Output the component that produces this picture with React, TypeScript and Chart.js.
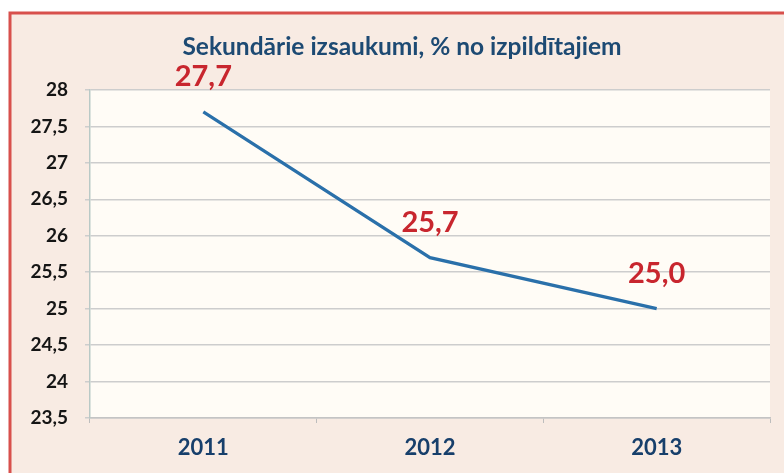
import React, { useEffect, useRef } from "react";
import { Chart, registerables } from "chart.js";

Chart.register(...registerables);

const TITLE = "Sekundārie izsaukumi, % no izpildītajiem";
const YEARS = ["2011", "2012", "2013"];
const VALUES = [27.7, 25.7, 25.0];
const VALUE_LABELS = ["27,7", "25,7", "25,0"];
const Y_MIN = 23.5;
const Y_MAX = 28;
const Y_STEP = 0.5;

const FONT = "Lato, 'Open Sans', sans-serif";

const framePlugin = {
  id: "frame",
  beforeDraw(chart: any) {
    const { ctx, width, height, chartArea } = chart;
    ctx.save();
    ctx.fillStyle = "#ffffff";
    ctx.fillRect(0, 0, width, height);
    ctx.fillStyle = "#f8ebe3";
    ctx.fillRect(10, 13, width, height);
    ctx.strokeStyle = "#d8504c";
    ctx.lineWidth = 3;
    ctx.beginPath();
    ctx.moveTo(10, height + 5);
    ctx.lineTo(10, 13);
    ctx.lineTo(width + 5, 13);
    ctx.stroke();
    ctx.fillStyle = "#fffcf6";
    ctx.fillRect(chartArea.left, chartArea.top, chartArea.right - chartArea.left, chartArea.bottom - chartArea.top);
    ctx.restore();
  },
  afterDraw(chart: any) {
    const { ctx } = chart;
    ctx.save();
    ctx.fillStyle = "#1d4a73";
    ctx.font = `bold 24.5px ${FONT}`;
    ctx.textAlign = "center";
    ctx.textBaseline = "middle";
    ctx.fillText(TITLE, 402, 47);
    const meta = chart.getDatasetMeta(0);
    ctx.fillStyle = "#c8262e";
    ctx.font = `bold 29px ${FONT}`;
    meta.data.forEach((pt: any, i: number) => {
      ctx.fillText(VALUE_LABELS[i], pt.x, pt.y - 35);
    });
    ctx.restore();
  },
};

export default function App() {
  const ref = useRef<HTMLCanvasElement>(null);
  useEffect(() => {
    if (!ref.current) return;
    const chart = new Chart(ref.current, {
      type: "line",
      data: {
        labels: YEARS,
        datasets: [
          {
            data: VALUES,
            borderColor: "#2a70aa",
            borderWidth: 3.2,
            pointRadius: 0,
            tension: 0,
            fill: false,
          },
        ],
      },
      options: {
        animation: false,
        responsive: false,
        layout: { padding: { top: 90, right: 14, left: 0, bottom: 0 } },
        plugins: { legend: { display: false }, tooltip: { enabled: false }, title: { display: false } },
        scales: {
          x: {
            offset: true,
            grid: { offset: true, drawOnChartArea: false, drawTicks: true, tickLength: 5, color: "#bdbdbd" },
            border: { color: "#c4c4c4", width: 1.5 },
            ticks: { color: "#173f6b", font: { family: FONT, size: 22, weight: "bold" }, padding: 12 },
            afterFit(scale: any) { scale.height = 55; },
          },
          y: {
            min: Y_MIN,
            max: Y_MAX,
            grid: { color: "#cdcdcd", lineWidth: 1.5, tickLength: 5 },
            border: { color: "#b9c9c6", width: 1.5 },
            ticks: {
              stepSize: Y_STEP,
              color: "#151515",
              font: { family: FONT, size: 19, weight: "bold" },
              padding: 17,
              callback: (v: any) => String(v).replace(".", ","),
            },
            afterFit(scale: any) { scale.width = 90; },
          },
        },
      },
      plugins: [framePlugin],
    });
    return () => chart.destroy();
  }, []);
  return (
    <div style={{ position: "absolute", left: 0, top: 0, width: 784, height: 473 }}>
      <canvas ref={ref} width={784} height={473} style={{ display: "block", width: 784, height: 473 }} />
    </div>
  );
}
